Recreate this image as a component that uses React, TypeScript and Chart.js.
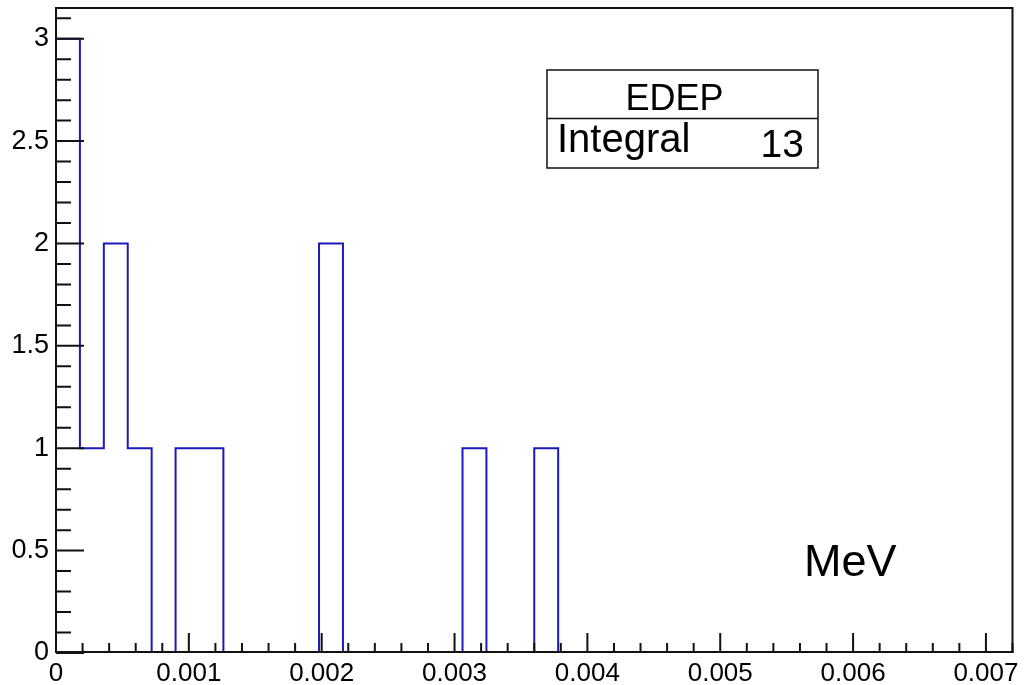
import React, { useEffect, useRef } from "react";
import { Chart, registerables } from "chart.js";

Chart.register(...registerables);

// ---- data ----
const binWidth = 0.00018;
const xMin = 0;
const xMax = 0.0072;
const yMax = 3.15;
const counts = [
  3, 1, 2, 1, 0, 1, 1, 0, 0, 0,
  0, 2, 0, 0, 0, 0, 0, 1, 0, 0,
  1, 0, 0, 0, 0, 0, 0, 0, 0, 0,
  0, 0, 0, 0, 0, 0, 0, 0, 0, 0,
];
const xTickLabels = ["0", "0.001", "0.002", "0.003", "0.004", "0.005", "0.006", "0.007"];
const yTickLabels = ["0", "0.5", "1", "1.5", "2", "2.5", "3"];
const xMajorStep = 0.001;
const xMinorStep = 0.0002;
const yMajorStep = 0.5;
const yMinorStep = 0.1;
const statTitle = "EDEP";
const statLabel = "Integral";
const unitLabel = "MeV";

const FONT = "'Liberation Sans', Arial, Helvetica, sans-serif";
const LINE_BLUE = "#1a1ab8";

export default function App() {
  const ref = useRef<HTMLCanvasElement | null>(null);

  useEffect(() => {
    const canvas = ref.current;
    if (!canvas) return;

    const points: { x: number; y: number }[] = [];
    counts.forEach((c, i) => points.push({ x: xMin + i * binWidth, y: c }));
    points.push({ x: xMin + counts.length * binWidth, y: 0 });
    const integral = counts.reduce((a, b) => a + b, 0);

    const framePlugin = {
      id: "rootFrame",
      afterDatasetsDraw(chart: any) {
        const { ctx, chartArea: a, scales } = chart;
        const xs = scales.x;
        const ys = scales.y;
        ctx.save();
        ctx.strokeStyle = "#111";
        ctx.lineWidth = 2;
        ctx.lineCap = "butt";
        // ticks
        ctx.beginPath();
        const nx = Math.round((xMax - xMin) / xMinorStep);
        const majorEveryX = Math.round(xMajorStep / xMinorStep);
        for (let k = 0; k <= nx; k++) {
          const px = xs.getPixelForValue(xMin + k * xMinorStep);
          const len = k % majorEveryX === 0 ? 20 : 10;
          ctx.moveTo(px, a.bottom);
          ctx.lineTo(px, a.bottom - len);
        }
        const ny = Math.floor(yMax / yMinorStep + 1e-6);
        const majorEveryY = Math.round(yMajorStep / yMinorStep);
        for (let k = 0; k <= ny; k++) {
          const py = ys.getPixelForValue(k * yMinorStep);
          const len = k % majorEveryY === 0 ? 28 : 15;
          ctx.moveTo(a.left, py);
          ctx.lineTo(a.left + len, py);
        }
        ctx.stroke();
        // frame
        ctx.beginPath();
        ctx.moveTo(a.left, a.top);
        ctx.lineTo(a.right, a.top);
        ctx.lineTo(a.right, a.bottom - 1);
        ctx.lineTo(a.left, a.bottom - 1);
        ctx.closePath();
        ctx.stroke();

        // stats box
        const bx = 547, by = 70, bw = 271, bh = 98, div = 118.5;
        ctx.fillStyle = "#fff";
        ctx.fillRect(bx, by, bw, bh);
        ctx.lineWidth = 1.5;
        ctx.strokeStyle = "#111";
        ctx.strokeRect(bx, by, bw, bh);
        ctx.beginPath();
        ctx.moveTo(bx, div);
        ctx.lineTo(bx + bw, div);
        ctx.stroke();
        ctx.fillStyle = "#000";
        ctx.textBaseline = "alphabetic";
        ctx.font = `36px ${FONT}`;
        ctx.textAlign = "center";
        ctx.fillText(statTitle, bx + bw / 2 - 8, 110);
        ctx.font = `40px ${FONT}`;
        ctx.textAlign = "left";
        ctx.fillText(statLabel, 557, 152);
        ctx.font = `39px ${FONT}`;
        ctx.textAlign = "right";
        ctx.fillText(String(integral), 804, 157);

        // unit label
        ctx.font = `45px ${FONT}`;
        ctx.textAlign = "left";
        ctx.fillText(unitLabel, 804, 576);
        ctx.restore();
      },
    };

    const chart = new Chart(canvas, {
      type: "line",
      data: {
        datasets: [
          {
            data: points,
            stepped: "before",
            borderColor: LINE_BLUE,
            borderWidth: 2,
            pointRadius: 0,
            fill: false,
            tension: 0,
          },
        ],
      },
      options: {
        animation: false,
        responsive: false,
        devicePixelRatio: 1,
        layout: { padding: { top: 8, right: 22.5, left: 0, bottom: 0 } },
        plugins: {
          legend: { display: false },
          tooltip: { enabled: false },
          title: { display: false },
        },
        scales: {
          x: {
            type: "linear",
            min: xMin,
            max: xMax,
            grid: { display: false, drawTicks: false },
            border: { display: false },
            ticks: {
              stepSize: xMajorStep,
              autoSkip: false,
              includeBounds: false,
              maxRotation: 0,
              padding: 5,
              color: "#000",
              font: { family: FONT, size: 26 },
              callback: (v: any) => xTickLabels[Math.round(Number(v) / xMajorStep)] ?? "",
            },
            afterFit: (s: any) => {
              s.height = 32;
              s.paddingLeft = 0;
              s.paddingRight = 0;
            },
          },
          y: {
            type: "linear",
            min: 0,
            max: yMax,
            grid: { display: false, drawTicks: false },
            border: { display: false },
            ticks: {
              stepSize: yMajorStep,
              autoSkip: false,
              includeBounds: false,
              padding: 7,
              color: "#000",
              font: { family: FONT, size: 27 },
              callback: (v: any) => yTickLabels[Math.round(Number(v) / yMajorStep)] ?? "",
            },
            afterFit: (s: any) => {
              s.width = 56;
              s.paddingTop = 0;
              s.paddingBottom = 0;
            },
          },
        },
      } as any,
      plugins: [framePlugin],
    });

    return () => chart.destroy();
  }, []);

  return (
    <div style={{ position: "absolute", left: 0, top: 0, width: 1035, height: 685, background: "#fff" }}>
      <canvas ref={ref} width={1035} height={685} style={{ display: "block" }} />
    </div>
  );
}
